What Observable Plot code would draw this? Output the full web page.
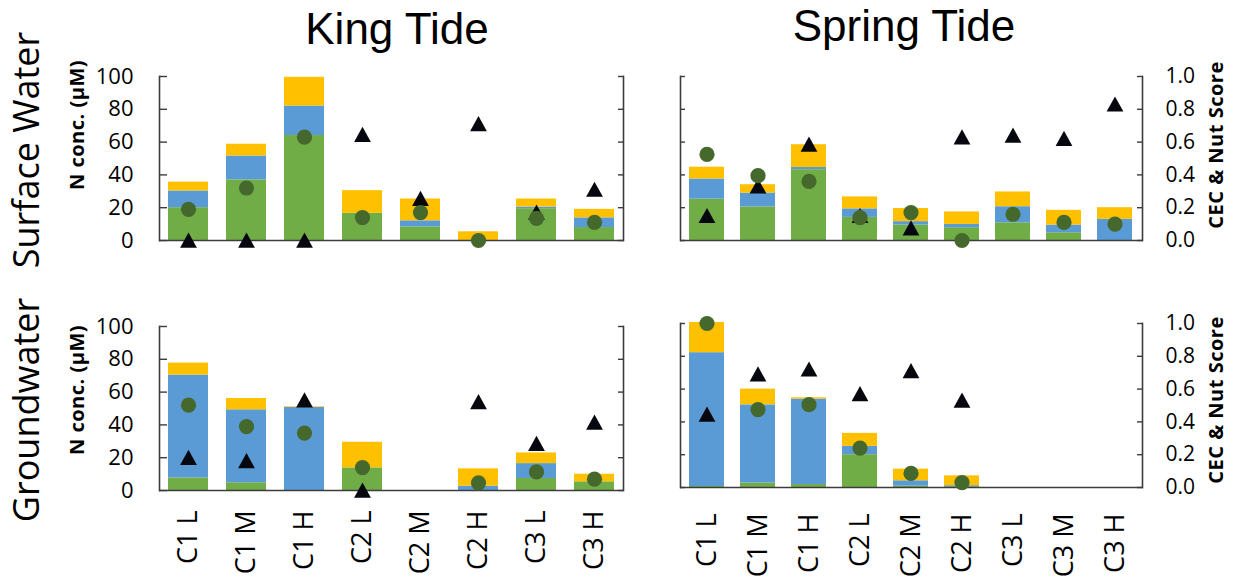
<!DOCTYPE html>
<html>
<head>
<meta charset="utf-8">
<script src="https://cdn.jsdelivr.net/npm/d3@7"></script>
<script src="https://cdn.jsdelivr.net/npm/@observablehq/plot@0.6"></script>
<style>
  body { margin: 0; background: #fff; font-family: "Open Sans", sans-serif; }
  #root { position: relative; width: 1236px; height: 577px; overflow: hidden; background: #fff; }
  #root svg { position: absolute; }
  .lbl { position: absolute; white-space: nowrap; line-height: 1; color: #000; }
  .title { font-family: "Liberation Sans", "Open Sans", sans-serif; }
</style>
</head>
<body>
<div id="root"></div>
<script>
// Sampling sites (left column has no C3 M sample)
const kingCats = ["C1 L", "C1 M", "C1 H", "C2 L", "C2 M", "C2 H", "C3 L", "C3 H"];
const springCats = ["C1 L", "C1 M", "C1 H", "C2 L", "C2 M", "C2 H", "C3 L", "C3 M", "C3 H"];

// N concentration components (µM), stacked bottom→top: green, blue, yellow
// King Tide – surface water
const ksGreen  = [20, 37, 64, 16.6, 8.3, 0, 19.4, 7.9];
const ksBlue   = [10.2, 14.5, 18, 0, 3.7, 0, 1, 5.9];
const ksYellow = [5.4, 7.2, 17.5, 13.8, 13.3, 5.3, 4.9, 5.2];
// Scores (0–1): triangle and circle markers
const ksTri = [0, 0, 0, 0.645, 0.255, 0.71, 0.17, 0.31];
const ksDot = [0.19, 0.32, 0.63, 0.14, 0.17, 0.0, 0.135, 0.11];

// Spring Tide – surface water
const ssGreen  = [25.2, 20.5, 43.2, 14.1, 9.4, 7.8, 10.8, 4.7, 0];
const ssBlue   = [12.3, 8.4, 1.3, 5.2, 2.1, 2, 9.8, 4.7, 12.9];
const ssYellow = [7.2, 5.1, 13.9, 7.3, 8, 7.6, 9, 9, 7.1];
const ssTri = [0.15, 0.33, 0.585, 0.15, 0.075, 0.63, 0.64, 0.62, 0.83];
const ssDot = [0.525, 0.395, 0.36, 0.14, 0.17, 0.0, 0.16, 0.11, 0.1];

// King Tide – groundwater
const kgGreen  = [7.7, 4.7, 0, 13.8, 0, 0, 7.3, 5.3];
const kgBlue   = [62.7, 44.5, 50.6, 0, 0, 2.6, 9.1, 0];
const kgYellow = [7.3, 6.9, 0.4, 15.6, 0, 10.6, 6.5, 4.6];
const kgTri = [0.2, 0.18, 0.55, 0, null, 0.54, 0.285, 0.415];
const kgDot = [0.52, 0.39, 0.35, 0.14, null, 0.047, 0.113, 0.069];

// Spring Tide – groundwater
const sgGreen  = [0.6, 2.7, 1.8, 20, 0.8, 0.5, 0, 0, 0];
const sgBlue   = [81.6, 47.7, 52.1, 5.1, 3.3, 0.6, 0, 0, 0];
const sgYellow = [18.4, 9.6, 0.8, 7.9, 7.1, 6.0, 0, 0, 0];
const sgTri = [0.445, 0.69, 0.72, 0.57, 0.71, 0.53, null, null, null];
const sgDot = [1.0, 0.475, 0.505, 0.24, 0.086, 0.03, null, null, null];

// Axis ticks
const concTicks = [0, 20, 40, 60, 80, 100];
const scoreTicks = [0, 0.2, 0.4, 0.6, 0.8, 1.0];

const partColors = { green: "#70AD47", blue: "#5B9BD5", yellow: "#FFC000" };
const axisColor = "#3c3c3c";
const font = '"Open Sans", sans-serif';

// Slightly flattened triangle marker
const triangle = {
  draw(context, size) {
    const r = Math.sqrt(size / Math.PI);
    context.moveTo(0, -r);
    context.lineTo(r * 1.05, r * 0.9);
    context.lineTo(-r * 1.05, r * 0.9);
    context.closePath();
  }
};

const root = document.getElementById("root");

function panel(o) {
  const rows = [];
  o.cats.forEach((c, i) => {
    rows.push({ cat: c, part: "green", value: o.green[i] });
    rows.push({ cat: c, part: "blue", value: o.blue[i] });
    rows.push({ cat: c, part: "yellow", value: o.yellow[i] });
  });
  // scores share the y scale: 1.0 on the right axis = 100 on the left axis
  const pts = o.cats.map((c, i) => ({
    cat: c,
    tri: o.tri[i] == null ? null : o.tri[i] * 100,
    dot: o.dot[i] == null ? null : o.dot[i] * 100
  }));
  const scoreTickPos = scoreTicks.map(d => d * 100);

  const marks = [
    Plot.barY(rows.filter(d => d.value > 0), {
      x: "cat", y: "value", fill: d => partColors[d.part]
    }),
    Plot.ruleY([0], { stroke: axisColor, strokeWidth: 1.6 }),
    Plot.frame({ anchor: "left", stroke: axisColor, strokeWidth: 1.6 }),
    Plot.frame({ anchor: "right", stroke: axisColor, strokeWidth: 1.6 }),
    // left axis: inward ticks
    Plot.axisY(concTicks, {
      anchor: "left", tickSize: o.leftTick, dx: o.leftTick, tickPadding: 26,
      fontSize: 22, stroke: axisColor, strokeWidth: 1.4, fill: "#000",
      tickFormat: o.leftLabels ? d => String(d) : () => "", label: null
    }),
    // right axis: CEC & Nut Score
    Plot.axisY(scoreTickPos, {
      anchor: "right", tickSize: 6, dx: -6, tickPadding: 23,
      fontSize: 21, stroke: axisColor, strokeWidth: 1.4, fill: "#000",
      tickFormat: o.rightLabels ? d => (d / 100).toFixed(1) : () => "", label: null
    }),
    Plot.dot(pts, { x: "cat", y: "tri", symbol: triangle, r: 8, fill: "#07070f", stroke: null }),
    Plot.dot(pts, { x: "cat", y: "dot", r: 7.6, fill: "#45692D", stroke: null })
  ];
  if (o.xLabels) {
    marks.push(Plot.axisX({
      anchor: "bottom", tickSize: 0, tickPadding: o.xPad, tickRotate: -90,
      fontSize: 27, fill: "#000", label: null
    }));
  }

  const svg = Plot.plot({
    width: o.width, height: o.height,
    marginTop: o.mt, marginBottom: o.mb, marginLeft: o.ml, marginRight: o.mr,
    style: { fontFamily: font, background: "transparent", overflow: "visible", color: "#000" },
    x: { type: "band", domain: o.cats, paddingInner: 0.31, paddingOuter: 0.155, axis: null },
    y: { domain: [0, 100], axis: null },
    marks
  });
  svg.style.left = o.left + "px";
  svg.style.top = o.top + "px";
  root.appendChild(svg);
}

panel({ cats: kingCats, green: ksGreen, blue: ksBlue, yellow: ksYellow, tri: ksTri, dot: ksDot,
  left: 70, top: 50, width: 580, height: 200, ml: 89, mr: 27, mt: 26, mb: 10,
  leftTick: 8, leftLabels: true, rightLabels: false, xLabels: false });
panel({ cats: springCats, green: ssGreen, blue: ssBlue, yellow: ssYellow, tri: ssTri, dot: ssDot,
  left: 640, top: 50, width: 596, height: 200, ml: 40, mr: 94, mt: 26, mb: 10,
  leftTick: 5, leftLabels: false, rightLabels: true, xLabels: false });
panel({ cats: kingCats, green: kgGreen, blue: kgBlue, yellow: kgYellow, tri: kgTri, dot: kgDot,
  left: 70, top: 300, width: 580, height: 277, ml: 89, mr: 27, mt: 26, mb: 87,
  leftTick: 8, leftLabels: true, rightLabels: false, xLabels: true, xPad: 20 });
panel({ cats: springCats, green: sgGreen, blue: sgBlue, yellow: sgYellow, tri: sgTri, dot: sgDot,
  left: 640, top: 297, width: 596, height: 280, ml: 40, mr: 94, mt: 26, mb: 90,
  leftTick: 5, leftLabels: false, rightLabels: true, xLabels: true, xPad: 26 });

// Titles and axis captions
function label(text, cx, cy, size, weight, rotate, spacing, cls) {
  const d = document.createElement("div");
  d.className = "lbl" + (cls ? " " + cls : "");
  d.textContent = text;
  d.style.left = cx + "px";
  d.style.top = cy + "px";
  d.style.fontSize = size + "px";
  d.style.fontWeight = weight;
  if (spacing) d.style.letterSpacing = spacing + "px";
  d.style.transform = "translate(-50%, -50%)" + (rotate ? " rotate(-90deg)" : "");
  root.appendChild(d);
}
label("King Tide", 397, 29, 44, 400, false, 0, "title");
label("Spring Tide", 904, 25.5, 44, 400, false, 0, "title");
label("Surface Water", 26, 150, 36, 400, true);
label("Groundwater", 26, 410, 36, 400, true);
label("N conc. (µM)", 77, 125, 20, 700, true, 0.5);
label("N conc. (µM)", 77, 390, 20, 700, true, 0.5);
label("CEC & Nut Score", 1216, 145, 20, 700, true, 0.5);
label("CEC & Nut Score", 1216, 400, 20, 700, true, 0.5);
</script>
</body>
</html>
